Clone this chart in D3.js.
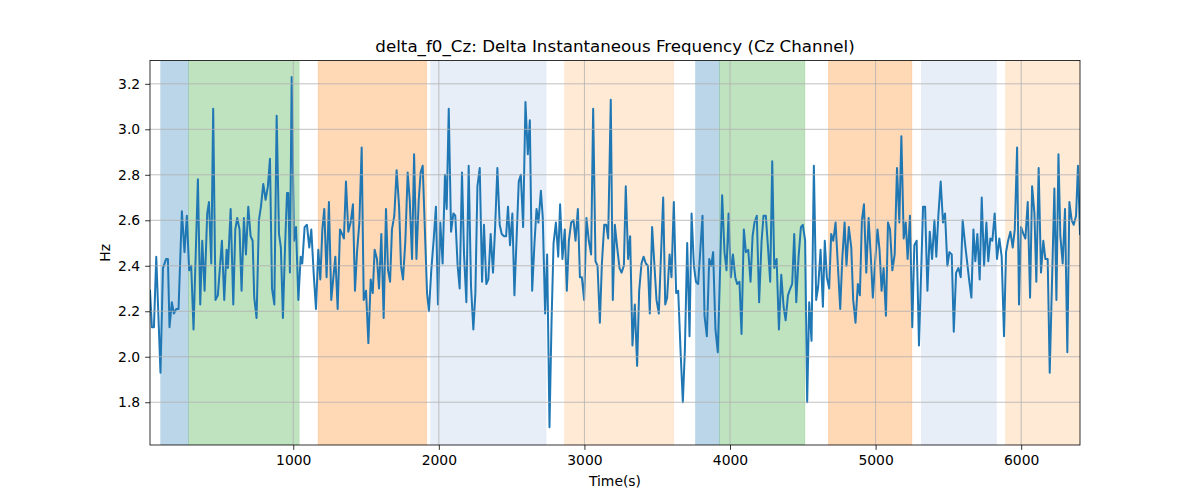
<!DOCTYPE html>
<html>
<head>
<meta charset="utf-8">
<script src="https://cdn.jsdelivr.net/npm/d3@7"></script>
<style>
  body { margin: 0; background: #fff; }
  svg { font-family: "DejaVu Sans", sans-serif; }
</style>
</head>
<body>
<svg id="chart" width="1200" height="500"></svg>
<script>
const times = [16,29,43,59,88,105,127,139,150,166,180,196,212,235,253,269,285,299,315,345,361,375,391,409,421,437,450,466,482,510,526,542,551,570,588,602,615,631,645,
661,675,691,707,721,732,748,764,778,794,810,826,840,854,870,886,902,915,929,943,957,966,977,989,1005,1019,1035,1051,1062,1078,1094,1110,1124,1140,1156,1172,1186,1200,1213,1229,1245,1261,
1289,1305,1321,1335,1348,1362,1378,1394,1410,1424,1438,1454,1470,1484,1500,1516,1532,1546,1559,1575,1589,1605,1621,1637,1651,1665,1678,1694,1710,1727,1740,1754,1770,1786,1800,1816,1830,1846,1862,1875,1889,
1919,1932,1948,1964,1980,1994,2010,2026,2042,2054,2068,2084,2100,2113,2129,2143,2159,2173,2189,2205,2221,2237,2251,2265,2281,2297,2310,2326,2340,2356,2372,2386,2402,2418,2432,2448,2462,2475,2489,2505,2519,
2549,2563,2579,2595,2611,2625,2641,2657,2671,2684,2701,2714,2730,2744,2760,2774,2788,2804,2820,2833,2849,2865,2879,2893,2909,2925,2939,2955,2969,2982,2998,3014,3030,3046,3060,3076,3090,3106,3120,3136,3150,3163,
3181,3195,3209,3225,3241,3255,3271,3284,3300,3314,3330,3346,3362,3376,3392,3406,3422,3436,3449,3465,3481,3495,3511,3525,3541,3555,3568,3585,3598,3614,3630,3644,3660,3676,3690,3706,3722,3736,3752,3766,3781,
3811,3825,3841,3857,3871,3884,3900,3916,3946,3962,3976,3990,4006,4020,4036,4049,4065,4079,4095,4109,4125,4141,4155,4168,4184,4200,4217,4230,4246,4262,4276,4290,4304,4320,4336,4352,4368,4382,4398,4414,4427,
4441,4455,4471,4487,4500,4516,4530,4544,4560,4576,4592,4606,4622,4638,4651,4665,4681,4695,4709,4725,4741,4757,4771,4787,4800,4816,4833,4846,4862,4878,4892,4906,4920,4936,4952,4968,4981,4997,5013,5027,5041,5055,5071,
5085,5099,5115,5131,5147,5163,5177,5193,5207,5220,5236,5252,5266,5282,5298,5326,5340,5356,5372,5388,5404,5417,5431,5447,5463,5477,5493,5507,5523,5537,5553,5569,5585,5598,5614,5628,5642,5658,5672,5685,5699,
5715,5729,5745,5761,5774,5788,5802,5818,5834,5850,5866,5882,5896,5910,5926,5942,5956,5972,5985,5999,6015,6029,6045,6061,6075,6091,6104,6120,6136,6152,6166,6182,6196,6228,6242,6256,6269,6285,6301,6317,6331,6347,6361,6377,6390,6404];

const values = [2.29,2.13,2.13,2.44,1.93,2.39,2.43,2.43,2.13,2.24,2.19,2.21,2.21,2.64,2.46,2.62,2.38,2.40,2.12,2.78,2.23,2.51,2.29,2.63,2.68,2.41,3.09,2.25,2.27,2.51,2.25,2.47,2.39,2.65,2.23,2.56,2.61,2.56,2.29,
2.61,2.45,2.66,2.53,2.51,2.26,2.17,2.60,2.66,2.76,2.69,2.75,2.87,2.30,2.23,3.06,2.54,2.48,2.17,2.47,2.72,2.72,2.37,3.23,2.51,2.57,2.25,2.44,2.41,2.57,2.58,2.48,2.56,2.37,2.21,2.47,2.34,2.56,2.65,2.35,2.68,2.25,
2.44,2.21,2.56,2.54,2.52,2.77,2.55,2.59,2.67,2.29,2.46,2.59,2.92,2.25,2.29,2.06,2.34,2.28,2.47,2.43,2.30,2.54,2.17,2.65,2.38,2.33,2.56,2.62,2.82,2.66,2.40,2.34,2.51,2.81,2.69,2.43,2.89,2.43,2.69,2.81,2.84,
2.28,2.20,2.38,2.51,2.66,2.23,2.59,2.41,2.80,2.65,3.09,2.55,2.63,2.62,2.40,2.30,2.81,2.45,2.24,2.84,2.31,2.12,2.28,2.75,2.83,2.33,2.58,2.32,2.34,2.54,2.37,2.56,2.83,2.58,2.54,2.53,2.53,2.66,2.49,2.63,2.27,
2.77,2.80,2.57,3.12,2.89,3.04,2.29,2.50,2.65,2.59,2.73,2.61,2.19,2.45,1.69,2.15,2.50,2.59,2.44,2.67,2.43,2.56,2.29,2.51,2.59,2.60,2.51,2.65,2.35,2.35,2.25,2.61,2.51,2.45,3.09,2.42,2.40,2.15,2.41,2.58,2.58,2.52,
3.13,2.25,2.58,2.48,2.39,2.37,2.40,2.75,2.43,2.53,2.05,2.23,1.96,2.29,2.41,2.44,2.41,2.40,2.19,2.57,2.40,2.25,2.19,2.43,2.70,2.23,2.26,2.45,2.35,2.68,2.28,2.29,2.03,1.80,2.03,2.50,2.09,2.63,2.40,2.33,2.32,
2.62,2.18,2.09,2.43,2.40,2.46,2.12,2.02,2.71,2.46,2.38,2.63,2.35,2.45,2.35,2.32,2.33,2.10,2.56,2.46,2.47,2.33,2.53,2.59,2.62,2.24,2.51,2.62,2.62,2.47,2.33,2.86,2.39,2.43,2.12,2.36,2.22,2.16,2.27,2.30,2.32,
2.54,2.24,2.44,2.57,2.58,2.51,1.80,2.24,2.07,2.84,2.25,2.31,2.47,2.22,2.51,2.35,2.30,2.54,2.51,2.59,2.40,2.21,2.43,2.59,2.40,2.57,2.48,2.25,2.15,2.32,2.27,2.60,2.67,2.37,2.61,2.43,2.26,2.42,2.56,2.47,2.29,2.39,2.18,
2.59,2.56,2.38,2.45,2.83,2.59,2.97,2.52,2.59,2.43,2.62,2.13,2.49,2.51,2.05,2.66,2.66,2.29,2.55,2.43,2.60,2.44,2.62,2.77,2.59,2.63,2.40,2.46,2.45,2.11,2.37,2.39,2.35,2.60,2.50,2.42,2.34,2.26,2.56,2.42,2.54,
2.34,2.70,2.40,2.59,2.42,2.52,2.51,2.63,2.43,2.52,2.44,2.09,2.46,2.51,2.55,2.48,2.56,2.92,2.23,2.57,2.54,2.52,2.68,2.26,2.75,2.63,2.33,2.83,2.37,2.51,2.43,2.43,1.93,2.74,2.25,2.89,2.53,2.41,2.65,2.02,2.68,2.60,2.58,2.62,2.84,2.54];

const spanStarts = [89, 281, 1170, 1944, 2863, 3763, 3928, 4675, 5314, 5892];
const spanEnds   = [281, 1041, 1917, 2737, 3614, 3928, 4515, 5250, 5830, 6500];
const spanKinds  = ["blue","green","orange","lightblue","lightorange","blue","green","orange","lightblue","lightorange"];

const xTicks = [1000, 2000, 3000, 4000, 5000, 6000];
const yTicks = [1.8, 2.0, 2.2, 2.4, 2.6, 2.8, 3.0, 3.2];
const xDomain = [16, 6404];
const yDomain = [1.612, 3.3025];

const titleText = "delta_f0_Cz: Delta Instantaneous Frequency (Cz Channel)";
const xLabel = "Time(s)";
const yLabel = "Hz";

const kindColor = {
  blue: "#1f77b4", green: "#2ca02c", orange: "#ff7f0e",
  lightblue: "#aec7e8", lightorange: "#ffbb78"
};

const L = 150, R = 1080, T = 60.5, B = 445;
const svg = d3.select("#chart");
const x = d3.scaleLinear().domain(xDomain).range([L, R]);
const y = d3.scaleLinear().domain(yDomain).range([B, T]);

svg.append("defs").append("clipPath").attr("id", "clip")
  .append("rect").attr("x", L).attr("y", T).attr("width", R - L).attr("height", B - T);

const plot = svg.append("g").attr("clip-path", "url(#clip)");

// spans
plot.selectAll("rect.span").data(spanStarts.map((s, i) => ({s, e: spanEnds[i], k: spanKinds[i]})))
  .enter().append("rect").attr("class", "span")
  .attr("x", d => x(d.s)).attr("y", T)
  .attr("width", d => x(d.e) - x(d.s)).attr("height", B - T)
  .attr("fill", d => kindColor[d.k]).attr("fill-opacity", 0.3)
  .attr("stroke", d => kindColor[d.k]).attr("stroke-opacity", 0.2).attr("stroke-width", 0.6);

// grid
const grid = svg.append("g");
grid.selectAll("line.gx").data(xTicks).enter().append("line")
  .attr("x1", d => x(d)).attr("x2", d => x(d)).attr("y1", T).attr("y2", B)
  .attr("stroke", "#b0b0b0").attr("stroke-width", 0.8);
grid.selectAll("line.gy").data(yTicks).enter().append("line")
  .attr("y1", d => y(d)).attr("y2", d => y(d)).attr("x1", L).attr("x2", R)
  .attr("stroke", "#b0b0b0").attr("stroke-width", 0.8);

// line
const line = d3.line().x((d, i) => x(times[i])).y(d => y(d));
plot.append("path").datum(values).attr("d", line)
  .attr("fill", "none").attr("stroke", "#1f77b4").attr("stroke-width", 2.0)
  .attr("stroke-linejoin", "round").attr("stroke-linecap", "square");

// axes
const xAxis = d3.axisBottom(x).tickValues(xTicks).tickFormat(d3.format("d")).tickSize(4.9).tickPadding(5.5);
const yAxis = d3.axisLeft(y).tickValues(yTicks).tickFormat(d3.format(".1f")).tickSize(4.9).tickPadding(4.9);
const gx = svg.append("g").attr("transform", `translate(0,${B})`).call(xAxis);
const gy = svg.append("g").attr("transform", `translate(${L},0)`).call(yAxis);
[gx, gy].forEach(g => {
  g.select(".domain").remove();
  g.selectAll(".tick line").attr("stroke", "#000").attr("stroke-width", 0.8);
  g.selectAll(".tick text").attr("fill", "#000").style("font-size", "13.9px").style("font-family", "DejaVu Sans");
});

// spines
svg.append("rect").attr("x", L).attr("y", T).attr("width", R - L).attr("height", B - T)
  .attr("fill", "none").attr("stroke", "#000").attr("stroke-width", 0.8);

// texts
svg.append("text").attr("x", (L + R) / 2).attr("y", 52).attr("text-anchor", "middle")
  .style("font-size", "16.7px").attr("fill", "#000").text(titleText);
svg.append("text").attr("x", (L + R) / 2).attr("y", 486).attr("text-anchor", "middle")
  .style("font-size", "13.9px").attr("fill", "#000").text(xLabel);
svg.append("text").attr("transform", `translate(110,${(T + B) / 2}) rotate(-90)`).attr("text-anchor", "middle")
  .style("font-size", "13.9px").attr("fill", "#000").text(yLabel);
</script>
</body>
</html>
